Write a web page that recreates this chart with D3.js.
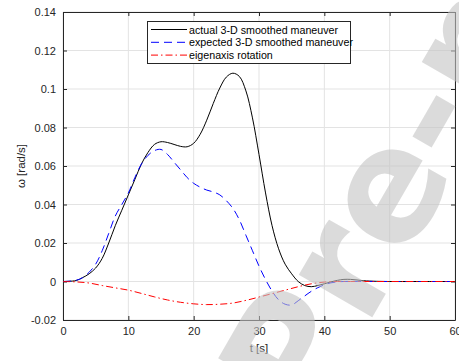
<!DOCTYPE html>
<html>
<head>
<meta charset="utf-8">
<script src="https://cdn.jsdelivr.net/npm/d3@7"></script>
<style>
  body { margin: 0; background: #fff; }
  svg { display: block; font-family: "Liberation Sans", Arial, sans-serif; }
</style>
</head>
<body>
<svg id="graph"></svg>
<script>
// time samples (s) and angular rate (rad/s) for each curve
var actualT = [0,2,3,4,5,6,7,8,9,10,11,12,13,14,15,16,17,18,19,20,21,22,23,24,25,26,27,28,29,30,31,32,33,34,35,36,37,38,39,40,41,42,43,44,45,46,48,50,55,60]
var actualW = [0,0.0005,0.002,0.004,0.007,0.012,0.020,0.029,0.037,0.045,0.053,0.061,0.067,0.0712,0.0726,0.0722,0.0712,0.0702,0.0700,0.0718,0.0765,0.0838,0.0925,0.1005,0.1062,0.1082,0.1065,0.0990,0.0850,0.0660,0.0460,0.0290,0.0170,0.0090,0.0040,0.0000,-0.0021,-0.0027,-0.0021,-0.0012,-0.0002,0.0006,0.0011,0.0011,0.0008,0.0004,0.0001,0,0,0]

var expectedT = [0,2,3,4,5,6,7,8,9,10,11,12,13,14,15,16,17,18,19,20,21,22,23,24,25,26,27,28,29,30,31,32,33,34,35,36,37,38,39,40,41,42,43,50,60]
var expectedW = [0,0.0006,0.002,0.0048,0.009,0.016,0.025,0.034,0.040,0.046,0.054,0.061,0.0655,0.068,0.0686,0.066,0.062,0.058,0.054,0.051,0.049,0.0475,0.0465,0.045,0.042,0.038,0.032,0.024,0.016,0.008,0.001,-0.005,-0.0095,-0.0118,-0.0122,-0.0100,-0.0075,-0.0051,-0.0032,-0.0017,-0.0007,-0.0002,0,0,0]

var eigenT = [0,2,4,6,8,10,12,14,16,18,20,22,24,26,28,30,32,34,36,38,40,42,44,50,60]
var eigenW = [0,-0.0002,-0.0008,-0.0021,-0.0033,-0.0045,-0.0062,-0.0080,-0.0096,-0.0108,-0.0116,-0.0120,-0.0118,-0.0112,-0.0098,-0.0081,-0.0063,-0.0045,-0.0027,-0.0012,-0.0003,0,0,0,0]

var seriesNames = ["actual 3-D smoothed maneuver", "expected 3-D smoothed maneuver", "eigenaxis rotation"]
var xTicks = [0,10,20,30,40,50,60]
var yTicks = [-0.02,0,0.02,0.04,0.06,0.08,0.1,0.12,0.14]

var screen = {width: 459, height: 361}
var box = {left: 63, right: 455, top: 12, bottom: 320}
var axisColor = "#262626"

var svg = d3.select("#graph")
  .attr("width", screen.width)
  .attr("height", screen.height)

var xScale = d3.scaleLinear().domain([0, 60]).range([box.left, box.right])
var yScale = d3.scaleLinear().domain([-0.02, 0.14]).range([box.bottom, box.top])

// grid
svg.append("g").selectAll("line").data(xTicks).enter().append("line")
  .attr("x1", d => xScale(d)).attr("x2", d => xScale(d))
  .attr("y1", box.top).attr("y2", box.bottom)
  .attr("stroke", "#e3e3e3").attr("stroke-width", 1)
svg.append("g").selectAll("line").data(yTicks).enter().append("line")
  .attr("x1", box.left).attr("x2", box.right)
  .attr("y1", d => yScale(d)).attr("y2", d => yScale(d))
  .attr("stroke", "#e3e3e3").attr("stroke-width", 1)

var fmt = function(d) { return String(+d.toFixed(2)) }

// axes with inward ticks
var ax = function(gen, tx, ty) {
  var g = svg.append("g").attr("transform", "translate(" + tx + "," + ty + ")").call(gen)
  g.select(".domain").attr("stroke", axisColor)
  g.selectAll(".tick line").attr("stroke", axisColor)
  g.selectAll("text").attr("fill", axisColor).attr("font-size", 11)
    .attr("font-family", "Liberation Sans, Arial, sans-serif")
  return g
}
ax(d3.axisBottom(xScale).tickValues(xTicks).tickSizeInner(-4).tickSizeOuter(0).tickPadding(7).tickFormat(fmt), 0, box.bottom)
ax(d3.axisTop(xScale).tickValues(xTicks).tickSizeInner(-4).tickSizeOuter(0).tickFormat(""), 0, box.top)
ax(d3.axisLeft(yScale).tickValues(yTicks).tickSizeInner(-4).tickSizeOuter(0).tickPadding(7).tickFormat(fmt), box.left, 0)
ax(d3.axisRight(yScale).tickValues(yTicks).tickSizeInner(-4).tickSizeOuter(0).tickFormat(""), box.right, 0)

// curves
var series = [
  {t: actualT, w: actualW, color: "#000000", dash: null},
  {t: expectedT, w: expectedW, color: "#0000ff", dash: "8,5"},
  {t: eigenT, w: eigenW, color: "#ff0000", dash: "7,3,1.5,3"}
]
var line = d3.line().curve(d3.curveCatmullRom.alpha(0.5))
  .x(d => xScale(d[0])).y(d => yScale(d[1]))

series.forEach(function(s) {
  svg.append("path")
    .datum(d3.zip(s.t, s.w))
    .attr("d", line)
    .attr("fill", "none")
    .attr("stroke", s.color)
    .attr("stroke-width", 1)
    .attr("stroke-dasharray", s.dash)
})

// legend
var lg = svg.append("g")
lg.append("rect").attr("x", 147.5).attr("y", 21.5).attr("width", 203).attr("height", 42)
  .attr("fill", "#fff").attr("stroke", axisColor).attr("stroke-width", 1)
series.forEach(function(s, i) {
  var yy = 29.5 + i * 12.8
  lg.append("line").attr("x1", 151).attr("x2", 187).attr("y1", yy).attr("y2", yy)
    .attr("stroke", s.color).attr("stroke-width", 1).attr("stroke-dasharray", s.dash)
  lg.append("text").attr("x", 189).attr("y", yy + 4).attr("font-size", 10.7)
    .attr("fill", "#000").text(seriesNames[i])
})

// axis titles
svg.append("text").attr("x", (box.left + box.right) / 2).attr("y", 352)
  .attr("text-anchor", "middle").attr("font-size", 11.5).attr("fill", axisColor).text("t [s]")
svg.append("text").attr("transform", "translate(25," + ((box.top + box.bottom) / 2) + ") rotate(-90)")
  .attr("text-anchor", "middle").attr("font-size", 11.5).attr("fill", axisColor).text("ω [rad/s]")

// watermark
svg.append("text").attr("transform", "translate(309,427) rotate(-60)")
  .attr("font-family", "DejaVu Sans, sans-serif").attr("font-weight", "bold")
  .attr("font-size", 155).attr("fill", "#c4c4c4").attr("opacity", 0.6)
  .text("Pre-print")
</script>
</body>
</html>
